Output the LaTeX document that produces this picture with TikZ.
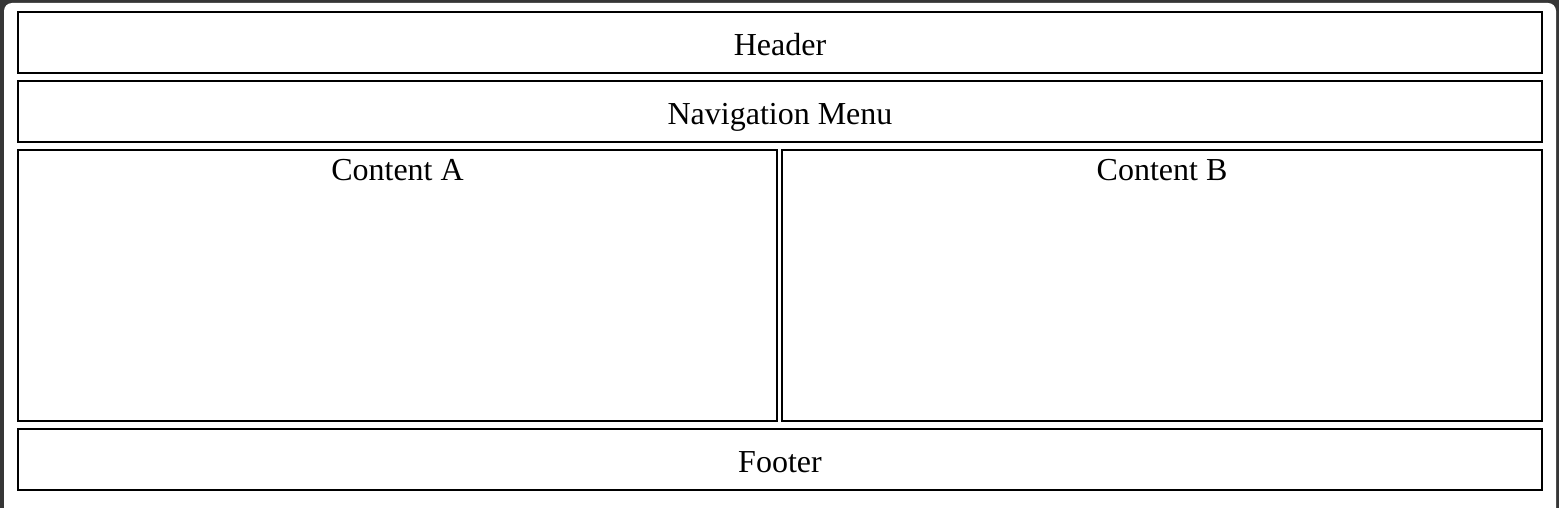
\documentclass[tikz,border=0pt]{standalone}
\usepackage{fontspec}
\setmainfont{Liberation Serif}
\definecolor{framegray}{HTML}{363636}

\tikzstyle{panel} = [rectangle, draw=black, line width=2pt, fill=white, inner sep=0pt, text centered, text height=33pt, text depth=7pt, font=\fontsize{32}{38}\selectfont]
\tikzstyle{wide} = [panel, minimum width=1524pt, minimum height=61pt]
\tikzstyle{half} = [panel, minimum width=759pt, minimum height=271pt]

\begin{document}
\begin{tikzpicture}[x=1pt, y=-1pt]
  \useasboundingbox (0,0) rectangle (1559,508);
  \clip (0,0) rectangle (1559,508);
  \fill[framegray] (0,0) rectangle (1559,508);
  \fill[white, rounded corners=8pt] (4,3) rectangle (1556,530);

  \node (header) [wide] at (780,42.5) {Header};
  \node (navmenu) [wide] at (780,111.5) {Navigation Menu};
  \node (contenta) [half, label={[anchor=base, yshift=-32pt, font=\fontsize{32}{38}\selectfont]north:Content A}] at (397.5,285.5) {};
  \node (contentb) [half, minimum width=760pt, label={[anchor=base, yshift=-32pt, font=\fontsize{32}{38}\selectfont]north:Content B}] at (1162,285.5) {};
  \node (footer) [wide] at (780,459.5) {Footer};
\end{tikzpicture}
\end{document}
